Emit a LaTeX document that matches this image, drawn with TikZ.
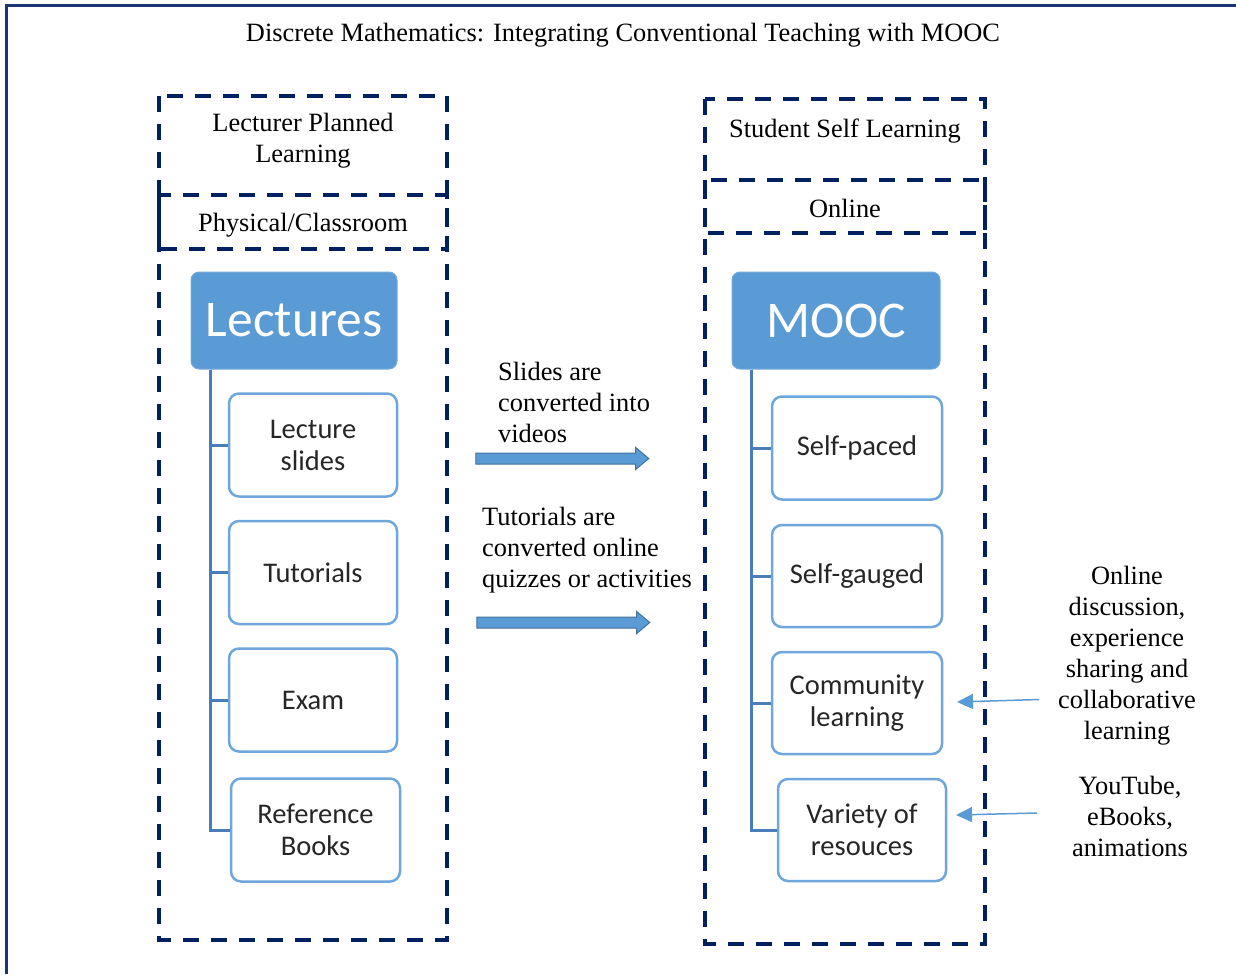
\documentclass[tikz,border=0pt]{standalone}
\usepackage{fontspec}
\setmainfont{Liberation Serif}
\newfontfamily\boxfont{Carlito}
\usetikzlibrary{shapes.arrows,arrows.meta,calc}
\definecolor{navy}{HTML}{002060}
\definecolor{framecol}{HTML}{1A3575}
\definecolor{accent}{HTML}{5B9BD5}
\definecolor{accentdark}{HTML}{41719C}
\definecolor{treeline}{HTML}{4A7DB8}
\definecolor{boxedge}{HTML}{6FA6DC}
\tikzset{
  txt/.style={inner sep=0pt, font=\fontsize{26.4}{31}\selectfont},
  dashbox/.style={draw=navy, line width=3.5pt, dash pattern=on 16pt off 12pt},
  mainbox/.style={fill=accent, draw=accent!85, rounded corners=8pt, text=white,
    font=\boxfont\fontsize{51.5}{56}\selectfont, line width=1pt},
  childbox/.style={fill=white, draw=boxedge, line width=2.5pt, rounded corners=10pt,
    align=center, font=\boxfont\fontsize{28.5}{32}\selectfont, text=black!85,
    minimum width=168pt, minimum height=103pt, inner sep=0pt},
  tree/.style={draw=treeline, line width=3pt},
  blockarrow/.style={single arrow, draw=accentdark, fill=accent, line width=1pt,
    minimum width=21pt, single arrow head extend=5.5pt, single arrow tip angle=80,
    minimum height=173pt, inner xsep=0pt, inner ysep=5pt},
  thinarrow/.style={draw=accent, line width=1.5pt, -{Triangle[length=16pt,width=15pt]}}
}
\begin{document}
\begin{tikzpicture}[x=1pt,y=-1pt]
\useasboundingbox (0,0) rectangle (1236,974);
% outer frame
\draw[framecol, line width=3pt] (6,974) -- (6,6) -- (1236,6);
\node[txt] (title) at (623,35) {Discrete Mathematics: Integrating Conventional Teaching with MOOC};

% left column
\draw[dashbox] (159,96) rectangle (447,940);
\draw[dashbox] (159,195) rectangle (447,249);
\node[txt, align=center] (lpl) at (303,141) {Lecturer Planned\\Learning};
\node[txt] (phys) at (303,225) {Physical/Classroom};

\node[mainbox, minimum width=206pt, minimum height=97pt] (lect) at (294,320.5) {Lectures};
\node[childbox] (ls) at (313,445) {Lecture\\slides};
\node[childbox] (tu) at (313,572.5) {Tutorials};
\node[childbox] (ex) at (313,700) {Exam};
\node[childbox, minimum width=169pt] (rb) at (315.5,830) {Reference\\Books};
\coordinate (lt) at ($(lect.south west)+(20,0)$);
\draw[tree] (lt) |- (ls.west);
\draw[tree] (lt) |- (tu.west);
\draw[tree] (lt) |- (ex.west);
\draw[tree] (lt) |- (rb.west);

% right column
\draw[dashbox] (705,99) rectangle (985,944);
\draw[dashbox] (705,180) rectangle (985,233);
\node[txt] (ssl) at (845,131) {Student Self Learning};
\node[txt] (onl) at (845,208) {Online};

\node[mainbox, minimum width=208pt, minimum height=97pt] (mooc) at (836,320.5) {MOOC};
\node[childbox, minimum width=170pt] (sp) at (857,448) {Self-paced};
\node[childbox, minimum width=170pt, minimum height=102pt] (sg) at (857,576) {Self-gauged};
\node[childbox, minimum width=170pt, minimum height=102pt] (cl) at (857,703) {Community\\learning};
\node[childbox, minimum width=168pt, minimum height=102pt] (vr) at (862,830) {Variety of\\resouces};
\coordinate (rt) at ($(mooc.south west)+(20,0)$);
\draw[tree] (rt) |- (sp.west);
\draw[tree] (rt) |- (sg.west);
\draw[tree] (rt) |- (cl.west);
\draw[tree] (rt) |- (vr.west);

% middle
\node[txt, anchor=west, align=left] (t1) at (498,402) {Slides are\\converted into\\videos};
\node[blockarrow] (a1) at (559,458.5) {};
\node[txt, anchor=west, align=left] (t2) at (482,550) {Tutorials are\\converted online\\quizzes or activities};
\node[blockarrow] (a2) at (560,622.5) {};

% right annotations
\node[txt, align=center] (n1) at (1127,656) {Online\\discussion,\\experience\\sharing and\\collaborative\\learning};
\node[txt, align=center] (n2) at (1130,816) {YouTube,\\eBooks,\\animations};
\coordinate (s1) at (1039,699.5);
\coordinate (e1) at (957,702);
\coordinate (s2) at (1037,813);
\coordinate (e2) at (956,815);
\draw[thinarrow] (s1) -- (e1);
\draw[thinarrow] (s2) -- (e2);
\end{tikzpicture}
\end{document}
